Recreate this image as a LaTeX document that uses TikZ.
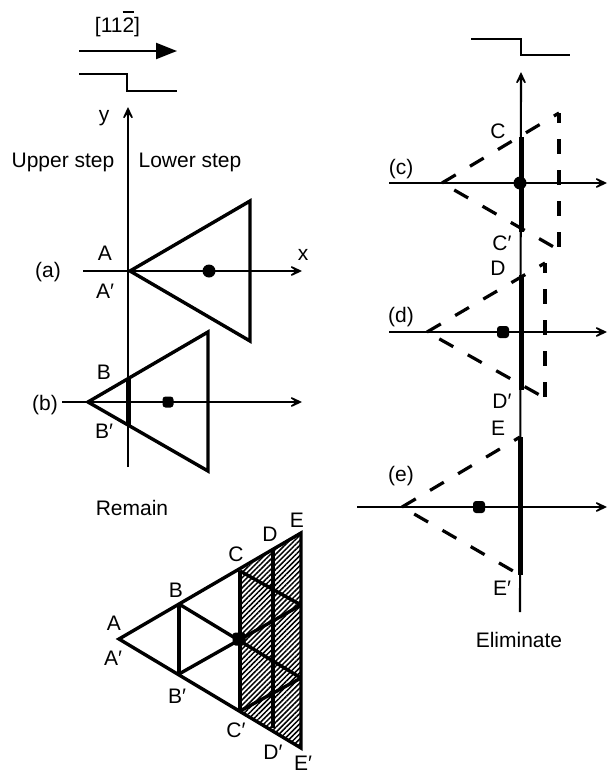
\documentclass[tikz,border=0pt]{standalone}
\usepackage{fontspec}
\setmainfont{Liberation Sans}
\usetikzlibrary{arrows.meta,patterns.meta}
\newcommand{\pr}{\char"2032\relax}
\tikzset{
  x=1pt,y=-1pt,
  lab/.style={inner sep=0pt,text height=15pt,text depth=0pt,font=\fontsize{21}{23}\selectfont},
  axisline/.style={line width=2.1pt,-{Stealth[length=18pt,width=17pt,inset=12pt]}},
  stepline/.style={line width=2.2pt,line join=miter},
  tri/.style={line width=3.4pt,line join=miter},
  thick seg/.style={line width=5pt},
  dashside/.style={line width=3.2pt,dash pattern=on 16pt off 16.6pt},
  dashdown/.style={line width=3.2pt,dash pattern=on 15pt off 16pt,dash phase=5pt},
  dashlow/.style={line width=3.2pt,dash pattern=on 16pt off 16.6pt,dash phase=18.5pt},
  atom/.style={circle,fill=black,inner sep=0pt,minimum size=13pt},
  atomsq/.style={rectangle,rounded corners=3pt,fill=black,inner sep=0pt,minimum size=12pt},
}
\begin{document}
\begin{tikzpicture}
\useasboundingbox (0,0) rectangle (608,774);
% ---- top-left
\node[lab] (dir) at (117.5,25) {[11\rlap{\raisebox{20pt}{\rule{11.7pt}{1.2pt}}}2]};
\coordinate (d0) at (79,51); \coordinate (d1) at (177,51);
\draw[line width=2.2pt,-{Triangle[length=21pt,width=16pt]}] (d0) -- (d1);
\draw[stepline] (79,74) -- (127,74) -- (127,91) -- (177,91);
% ---- (a),(b) axis
\coordinate (yb) at (128,467); \coordinate (yt) at (128,107);
\draw[axisline] (yb) -- (yt);
\node[lab] (ylab) at (104,114) {y};
\node[lab] (up) at (63,160) {Upper step};
\node[lab] (lo) at (190,160) {Lower step};
\coordinate (ax0) at (83,271); \coordinate (ax1) at (302,271);
\draw[axisline] (ax0) -- (ax1);
\node[lab] (xlab) at (303,253) {x};
\node[lab] (la) at (48,270) {(a)};
\node[lab] (A) at (105,253) {A};
\node[lab] (Ap) at (105,291) {A\pr};
\coordinate (ta1) at (130,271); \coordinate (ta2) at (250,201); \coordinate (ta3) at (250,341);
\draw[tri] (ta1) -- (ta2) -- (ta3) -- cycle;
\node[atom] (dota) at (209,271) {};
% (b)
\coordinate (bx0) at (62,402); \coordinate (bx1) at (302,402);
\draw[axisline] (bx0) -- (bx1);
\node[lab] (lb) at (45,403) {(b)};
\node[lab] (B) at (104,372) {B};
\node[lab] (Bp) at (104,431) {B\pr};
\coordinate (tb1) at (88,402); \coordinate (tb2) at (208,332); \coordinate (tb3) at (208,471);
\draw[tri] (tb1) -- (tb2) -- (tb3) -- cycle;
\coordinate (bs0) at (128,379); \coordinate (bs1) at (128,425);
\draw[thick seg] (bs0) -- (bs1);
\node[atomsq,minimum size=11pt] (dotb) at (168,402) {};
% ---- Remain triangle
\node[lab] (rem) at (132,508) {Remain};
\coordinate (rA) at (119,639);
\coordinate (rB) at (179,604); \coordinate (rBp) at (179,674);
\coordinate (rC) at (240,571); \coordinate (rCp) at (240,711);
\coordinate (rD) at (273,551); \coordinate (rDp) at (273,728);
\coordinate (rE) at (301,533); \coordinate (rEp) at (301,748);
\coordinate (rM1) at (301,605); \coordinate (rM2) at (301,678);
\fill[pattern={Lines[angle=45,distance=3.6pt,line width=1.5pt]}] (rC) -- (rE) -- (rEp) -- (rCp) -- cycle;
\draw[tri] (rA) -- (rE) -- (rEp) -- cycle;
\draw[tri] (rB) -- (rBp);
\draw[tri] (rC) -- (rCp);
\draw[tri] (rD) -- (rDp);
\draw[tri] (rB) -- (rM2);
\draw[tri] (rBp) -- (rM1);
\draw[tri] (rC) -- (rM1);
\draw[tri] (rCp) -- (rM2);
\node[atomsq,minimum size=13pt] (dotr) at (239,639) {};
\node[lab] (a1) at (114,623) {A};
\node[lab] (a2) at (113,658) {A\pr};
\node[lab] (b1) at (176,590) {B};
\node[lab] (b2) at (177,696) {B\pr};
\node[lab] (c1) at (236,554) {C};
\node[lab] (c2) at (236,730) {C\pr};
\node[lab] (d1l) at (270,534) {D};
\node[lab] (d2l) at (273,752) {D\pr};
\node[lab] (e1) at (297,520) {E};
\node[lab] (e2) at (303,763) {E\pr};
% ---- right side
\draw[stepline] (471,39) -- (521,39) -- (521,55) -- (570,55);
\coordinate (Yb) at (520,612); \coordinate (Yt) at (521,72);
\draw[axisline] (Yb) -- (Yt);
% (c)
\coordinate (cx0) at (389,183); \coordinate (cx1) at (607,183);
\draw[axisline] (cx0) -- (cx1);
\coordinate (tc1) at (442,183); \coordinate (tc2) at (559,113); \coordinate (tc3) at (559,250);
\draw[dashside] (tc1) -- (tc2);
\draw[dashdown] (tc2) -- (tc3);
\draw[dashlow] (tc1) -- (tc3);
\coordinate (cs0) at (521,137); \coordinate (cs1) at (521,232);
\draw[thick seg] (cs0) -- (cs1);
\node[atom] (dotc) at (520,183) {};
\node[lab] (lc) at (401,167) {(c)};
\node[lab] (C) at (498,131) {C};
\node[lab] (Cp) at (502,243) {C\pr};
% (d)
\coordinate (dx0) at (389,332); \coordinate (dx1) at (607,332);
\draw[axisline] (dx0) -- (dx1);
\coordinate (td1) at (427,332); \coordinate (td2) at (545,263); \coordinate (td3) at (545,398);
\draw[dashside] (td1) -- (td2);
\draw[dashdown] (td2) -- (td3);
\draw[dashlow] (td1) -- (td3);
\coordinate (ds0) at (521,275); \coordinate (ds1) at (521,390);
\draw[thick seg] (ds0) -- (ds1);
\node[atomsq] (dotd) at (503,332) {};
\node[lab] (ld) at (401,315) {(d)};
\node[lab] (D) at (498,268) {D};
\node[lab] (Dp) at (502,401) {D\pr};
% (e)
\coordinate (ex0) at (357,507); \coordinate (ex1) at (607,507);
\draw[axisline] (ex0) -- (ex1);
\coordinate (te1) at (402,507); \coordinate (te2) at (520,437); \coordinate (te3) at (520,575);
\draw[dashside] (te1) -- (te2);
\draw[dashlow] (te1) -- (te3);
\coordinate (es0) at (520,437); \coordinate (es1) at (520,575);
\draw[thick seg] (es0) -- (es1);
\node[atomsq] (dote) at (479,507) {};
\node[lab] (le) at (401,474) {(e)};
\node[lab] (Elab) at (498,428) {E};
\node[lab] (Ep) at (502,588) {E\pr};
\node[lab] (elim) at (519,640) {Eliminate};
\end{tikzpicture}
\end{document}
